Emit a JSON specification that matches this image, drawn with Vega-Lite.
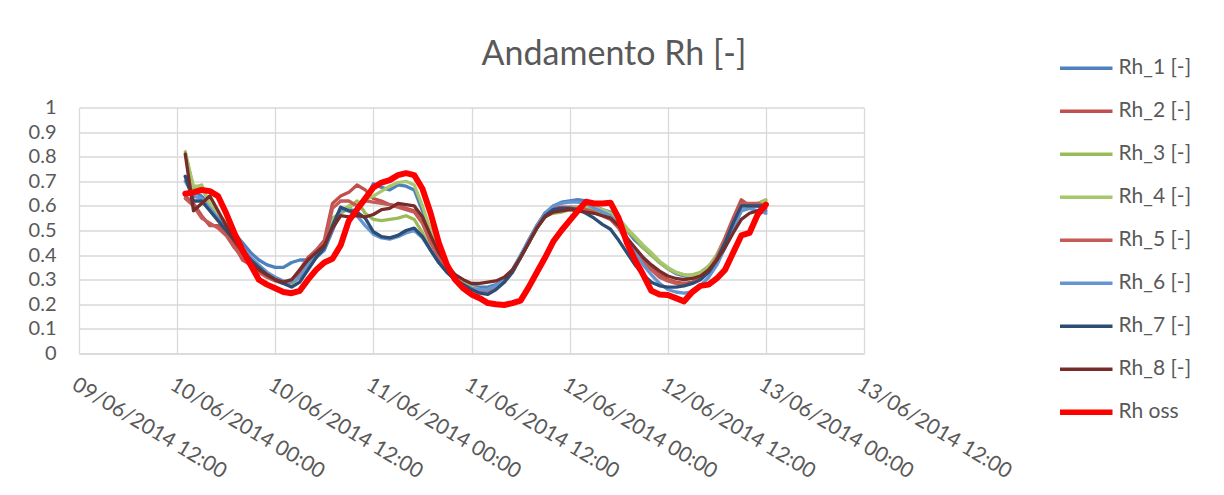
{
  "$schema": "https://vega.github.io/schema/vega-lite/v6.json",
  "width": 785,
  "height": 246,
  "autosize": {"type": "none"},
  "padding": {"left": 79, "top": 107.5, "right": 360, "bottom": 141.5},
  "background": "white",
  "config": {
    "font": "Lato",
    "view": {"stroke": null}
  },
  "title": {
    "text": "Andamento Rh [-]",
    "fontSize": 34,
    "fontWeight": "normal",
    "color": "#595959",
    "anchor": "middle",
    "frame": "group",
    "dx": 142.5,
    "dy": 55,
    "offset": 30
  },
  "data": {
    "values": [
      {"t": "2014-06-10T01:00", "r1": 0.72, "r2": 0.64, "r3": 0.82, "r4": 0.81, "r5": 0.63, "r6": 0.70, "r7": 0.72, "r8": 0.81, "obs": 0.65},
      {"t": "2014-06-10T02:00", "r1": 0.66, "r2": 0.61, "r3": 0.67, "r4": 0.68, "r5": 0.60, "r6": 0.64, "r7": 0.62, "r8": 0.58, "obs": 0.655},
      {"t": "2014-06-10T03:00", "r1": 0.64, "r2": 0.56, "r3": 0.685, "r4": 0.68, "r5": 0.55, "r6": 0.63, "r7": 0.62, "r8": 0.61, "obs": 0.665},
      {"t": "2014-06-10T04:00", "r1": 0.60, "r2": 0.52, "r3": 0.60, "r4": 0.61, "r5": 0.53, "r6": 0.59, "r7": 0.58, "r8": 0.64, "obs": 0.66},
      {"t": "2014-06-10T05:00", "r1": 0.56, "r2": 0.52, "r3": 0.56, "r4": 0.57, "r5": 0.51, "r6": 0.55, "r7": 0.54, "r8": 0.58, "obs": 0.64},
      {"t": "2014-06-10T06:00", "r1": 0.53, "r2": 0.49, "r3": 0.52, "r4": 0.53, "r5": 0.48, "r6": 0.52, "r7": 0.50, "r8": 0.52, "obs": 0.57},
      {"t": "2014-06-10T07:00", "r1": 0.49, "r2": 0.44, "r3": 0.47, "r4": 0.47, "r5": 0.43, "r6": 0.47, "r7": 0.46, "r8": 0.46, "obs": 0.49},
      {"t": "2014-06-10T08:00", "r1": 0.45, "r2": 0.38, "r3": 0.42, "r4": 0.42, "r5": 0.39, "r6": 0.43, "r7": 0.42, "r8": 0.41, "obs": 0.42},
      {"t": "2014-06-10T09:00", "r1": 0.41, "r2": 0.36, "r3": 0.38, "r4": 0.38, "r5": 0.36, "r6": 0.39, "r7": 0.38, "r8": 0.37, "obs": 0.36},
      {"t": "2014-06-10T10:00", "r1": 0.38, "r2": 0.34, "r3": 0.34, "r4": 0.345, "r5": 0.33, "r6": 0.36, "r7": 0.35, "r8": 0.34, "obs": 0.30},
      {"t": "2014-06-10T11:00", "r1": 0.36, "r2": 0.32, "r3": 0.31, "r4": 0.32, "r5": 0.31, "r6": 0.33, "r7": 0.32, "r8": 0.32, "obs": 0.28},
      {"t": "2014-06-10T12:00", "r1": 0.35, "r2": 0.30, "r3": 0.30, "r4": 0.305, "r5": 0.295, "r6": 0.31, "r7": 0.30, "r8": 0.30, "obs": 0.265},
      {"t": "2014-06-10T13:00", "r1": 0.35, "r2": 0.29, "r3": 0.285, "r4": 0.29, "r5": 0.285, "r6": 0.295, "r7": 0.285, "r8": 0.29, "obs": 0.25},
      {"t": "2014-06-10T14:00", "r1": 0.37, "r2": 0.295, "r3": 0.28, "r4": 0.285, "r5": 0.29, "r6": 0.29, "r7": 0.27, "r8": 0.30, "obs": 0.245},
      {"t": "2014-06-10T15:00", "r1": 0.38, "r2": 0.34, "r3": 0.31, "r4": 0.32, "r5": 0.33, "r6": 0.31, "r7": 0.29, "r8": 0.34, "obs": 0.255},
      {"t": "2014-06-10T16:00", "r1": 0.38, "r2": 0.39, "r3": 0.36, "r4": 0.37, "r5": 0.38, "r6": 0.36, "r7": 0.34, "r8": 0.38, "obs": 0.30},
      {"t": "2014-06-10T17:00", "r1": 0.39, "r2": 0.42, "r3": 0.40, "r4": 0.41, "r5": 0.42, "r6": 0.40, "r7": 0.39, "r8": 0.41, "obs": 0.34},
      {"t": "2014-06-10T18:00", "r1": 0.42, "r2": 0.46, "r3": 0.44, "r4": 0.45, "r5": 0.45, "r6": 0.43, "r7": 0.43, "r8": 0.44, "obs": 0.37},
      {"t": "2014-06-10T19:00", "r1": 0.50, "r2": 0.61, "r3": 0.55, "r4": 0.54, "r5": 0.59, "r6": 0.51, "r7": 0.52, "r8": 0.51, "obs": 0.385},
      {"t": "2014-06-10T20:00", "r1": 0.58, "r2": 0.64, "r3": 0.57, "r4": 0.58, "r5": 0.62, "r6": 0.585, "r7": 0.595, "r8": 0.56, "obs": 0.44},
      {"t": "2014-06-10T21:00", "r1": 0.585, "r2": 0.655, "r3": 0.59, "r4": 0.60, "r5": 0.62, "r6": 0.58, "r7": 0.58, "r8": 0.555, "obs": 0.54},
      {"t": "2014-06-10T22:00", "r1": 0.58, "r2": 0.685, "r3": 0.62, "r4": 0.61, "r5": 0.60, "r6": 0.56, "r7": 0.575, "r8": 0.56, "obs": 0.585},
      {"t": "2014-06-10T23:00", "r1": 0.62, "r2": 0.665, "r3": 0.57, "r4": 0.625, "r5": 0.62, "r6": 0.52, "r7": 0.55, "r8": 0.555, "obs": 0.63},
      {"t": "2014-06-11T00:00", "r1": 0.69, "r2": 0.63, "r3": 0.545, "r4": 0.64, "r5": 0.615, "r6": 0.485, "r7": 0.495, "r8": 0.565, "obs": 0.675},
      {"t": "2014-06-11T01:00", "r1": 0.675, "r2": 0.62, "r3": 0.54, "r4": 0.66, "r5": 0.61, "r6": 0.47, "r7": 0.475, "r8": 0.585, "obs": 0.695},
      {"t": "2014-06-11T02:00", "r1": 0.665, "r2": 0.605, "r3": 0.545, "r4": 0.68, "r5": 0.605, "r6": 0.465, "r7": 0.47, "r8": 0.59, "obs": 0.705},
      {"t": "2014-06-11T03:00", "r1": 0.685, "r2": 0.60, "r3": 0.55, "r4": 0.695, "r5": 0.595, "r6": 0.475, "r7": 0.48, "r8": 0.61, "obs": 0.725},
      {"t": "2014-06-11T04:00", "r1": 0.68, "r2": 0.59, "r3": 0.56, "r4": 0.70, "r5": 0.585, "r6": 0.49, "r7": 0.50, "r8": 0.605, "obs": 0.733},
      {"t": "2014-06-11T05:00", "r1": 0.665, "r2": 0.58, "r3": 0.545, "r4": 0.685, "r5": 0.575, "r6": 0.50, "r7": 0.51, "r8": 0.60, "obs": 0.725},
      {"t": "2014-06-11T06:00", "r1": 0.58, "r2": 0.53, "r3": 0.49, "r4": 0.60, "r5": 0.53, "r6": 0.47, "r7": 0.475, "r8": 0.555, "obs": 0.67},
      {"t": "2014-06-11T07:00", "r1": 0.50, "r2": 0.46, "r3": 0.42, "r4": 0.50, "r5": 0.45, "r6": 0.42, "r7": 0.42, "r8": 0.48, "obs": 0.57},
      {"t": "2014-06-11T08:00", "r1": 0.42, "r2": 0.40, "r3": 0.37, "r4": 0.42, "r5": 0.39, "r6": 0.37, "r7": 0.37, "r8": 0.41, "obs": 0.45},
      {"t": "2014-06-11T09:00", "r1": 0.36, "r2": 0.35, "r3": 0.33, "r4": 0.36, "r5": 0.34, "r6": 0.33, "r7": 0.33, "r8": 0.36, "obs": 0.36},
      {"t": "2014-06-11T10:00", "r1": 0.31, "r2": 0.31, "r3": 0.30, "r4": 0.32, "r5": 0.305, "r6": 0.30, "r7": 0.30, "r8": 0.32, "obs": 0.30},
      {"t": "2014-06-11T11:00", "r1": 0.29, "r2": 0.285, "r3": 0.28, "r4": 0.29, "r5": 0.28, "r6": 0.28, "r7": 0.28, "r8": 0.30, "obs": 0.265},
      {"t": "2014-06-11T12:00", "r1": 0.275, "r2": 0.27, "r3": 0.265, "r4": 0.27, "r5": 0.265, "r6": 0.265, "r7": 0.26, "r8": 0.285, "obs": 0.24},
      {"t": "2014-06-11T13:00", "r1": 0.27, "r2": 0.26, "r3": 0.255, "r4": 0.26, "r5": 0.255, "r6": 0.26, "r7": 0.245, "r8": 0.285, "obs": 0.225},
      {"t": "2014-06-11T14:00", "r1": 0.27, "r2": 0.26, "r3": 0.25, "r4": 0.26, "r5": 0.255, "r6": 0.26, "r7": 0.24, "r8": 0.29, "obs": 0.205},
      {"t": "2014-06-11T15:00", "r1": 0.28, "r2": 0.27, "r3": 0.265, "r4": 0.27, "r5": 0.27, "r6": 0.275, "r7": 0.26, "r8": 0.295, "obs": 0.20},
      {"t": "2014-06-11T16:00", "r1": 0.295, "r2": 0.29, "r3": 0.29, "r4": 0.29, "r5": 0.295, "r6": 0.30, "r7": 0.29, "r8": 0.31, "obs": 0.197},
      {"t": "2014-06-11T17:00", "r1": 0.33, "r2": 0.33, "r3": 0.33, "r4": 0.33, "r5": 0.335, "r6": 0.34, "r7": 0.33, "r8": 0.34, "obs": 0.205},
      {"t": "2014-06-11T18:00", "r1": 0.39, "r2": 0.39, "r3": 0.39, "r4": 0.39, "r5": 0.395, "r6": 0.40, "r7": 0.39, "r8": 0.39, "obs": 0.215},
      {"t": "2014-06-11T19:00", "r1": 0.45, "r2": 0.46, "r3": 0.45, "r4": 0.45, "r5": 0.46, "r6": 0.46, "r7": 0.45, "r8": 0.45, "obs": 0.27},
      {"t": "2014-06-11T20:00", "r1": 0.51, "r2": 0.52, "r3": 0.51, "r4": 0.51, "r5": 0.52, "r6": 0.52, "r7": 0.51, "r8": 0.51, "obs": 0.33},
      {"t": "2014-06-11T21:00", "r1": 0.57, "r2": 0.57, "r3": 0.56, "r4": 0.56, "r5": 0.57, "r6": 0.57, "r7": 0.56, "r8": 0.555, "obs": 0.39},
      {"t": "2014-06-11T22:00", "r1": 0.60, "r2": 0.59, "r3": 0.57, "r4": 0.575, "r5": 0.585, "r6": 0.60, "r7": 0.585, "r8": 0.575, "obs": 0.455},
      {"t": "2014-06-11T23:00", "r1": 0.615, "r2": 0.595, "r3": 0.575, "r4": 0.58, "r5": 0.59, "r6": 0.61, "r7": 0.59, "r8": 0.58, "obs": 0.50},
      {"t": "2014-06-12T00:00", "r1": 0.62, "r2": 0.595, "r3": 0.585, "r4": 0.59, "r5": 0.59, "r6": 0.615, "r7": 0.59, "r8": 0.585, "obs": 0.54},
      {"t": "2014-06-12T01:00", "r1": 0.625, "r2": 0.595, "r3": 0.59, "r4": 0.595, "r5": 0.59, "r6": 0.615, "r7": 0.585, "r8": 0.58, "obs": 0.58},
      {"t": "2014-06-12T02:00", "r1": 0.62, "r2": 0.59, "r3": 0.59, "r4": 0.60, "r5": 0.585, "r6": 0.61, "r7": 0.57, "r8": 0.575, "obs": 0.617},
      {"t": "2014-06-12T03:00", "r1": 0.60, "r2": 0.58, "r3": 0.585, "r4": 0.595, "r5": 0.575, "r6": 0.59, "r7": 0.55, "r8": 0.57, "obs": 0.61},
      {"t": "2014-06-12T04:00", "r1": 0.585, "r2": 0.565, "r3": 0.575, "r4": 0.585, "r5": 0.56, "r6": 0.575, "r7": 0.525, "r8": 0.56, "obs": 0.61},
      {"t": "2014-06-12T05:00", "r1": 0.575, "r2": 0.55, "r3": 0.56, "r4": 0.57, "r5": 0.545, "r6": 0.56, "r7": 0.505, "r8": 0.55, "obs": 0.613},
      {"t": "2014-06-12T06:00", "r1": 0.545, "r2": 0.52, "r3": 0.54, "r4": 0.55, "r5": 0.51, "r6": 0.52, "r7": 0.46, "r8": 0.52, "obs": 0.55},
      {"t": "2014-06-12T07:00", "r1": 0.50, "r2": 0.46, "r3": 0.50, "r4": 0.51, "r5": 0.455, "r6": 0.46, "r7": 0.41, "r8": 0.47, "obs": 0.45},
      {"t": "2014-06-12T08:00", "r1": 0.46, "r2": 0.42, "r3": 0.47, "r4": 0.475, "r5": 0.41, "r6": 0.41, "r7": 0.36, "r8": 0.43, "obs": 0.38},
      {"t": "2014-06-12T09:00", "r1": 0.43, "r2": 0.38, "r3": 0.43, "r4": 0.44, "r5": 0.37, "r6": 0.36, "r7": 0.32, "r8": 0.39, "obs": 0.32},
      {"t": "2014-06-12T10:00", "r1": 0.40, "r2": 0.35, "r3": 0.40, "r4": 0.41, "r5": 0.34, "r6": 0.32, "r7": 0.29, "r8": 0.36, "obs": 0.255},
      {"t": "2014-06-12T11:00", "r1": 0.37, "r2": 0.32, "r3": 0.37, "r4": 0.375, "r5": 0.31, "r6": 0.285, "r7": 0.275, "r8": 0.335, "obs": 0.24},
      {"t": "2014-06-12T12:00", "r1": 0.345, "r2": 0.30, "r3": 0.345, "r4": 0.35, "r5": 0.295, "r6": 0.26, "r7": 0.27, "r8": 0.315, "obs": 0.238},
      {"t": "2014-06-12T13:00", "r1": 0.325, "r2": 0.29, "r3": 0.33, "r4": 0.33, "r5": 0.285, "r6": 0.25, "r7": 0.27, "r8": 0.305, "obs": 0.225},
      {"t": "2014-06-12T14:00", "r1": 0.315, "r2": 0.285, "r3": 0.32, "r4": 0.32, "r5": 0.28, "r6": 0.245, "r7": 0.275, "r8": 0.30, "obs": 0.212},
      {"t": "2014-06-12T15:00", "r1": 0.31, "r2": 0.29, "r3": 0.32, "r4": 0.315, "r5": 0.285, "r6": 0.25, "r7": 0.285, "r8": 0.305, "obs": 0.25},
      {"t": "2014-06-12T16:00", "r1": 0.32, "r2": 0.31, "r3": 0.33, "r4": 0.325, "r5": 0.305, "r6": 0.275, "r7": 0.30, "r8": 0.315, "obs": 0.275},
      {"t": "2014-06-12T17:00", "r1": 0.34, "r2": 0.34, "r3": 0.355, "r4": 0.35, "r5": 0.335, "r6": 0.31, "r7": 0.33, "r8": 0.34, "obs": 0.28},
      {"t": "2014-06-12T18:00", "r1": 0.38, "r2": 0.40, "r3": 0.40, "r4": 0.395, "r5": 0.39, "r6": 0.36, "r7": 0.38, "r8": 0.38, "obs": 0.305},
      {"t": "2014-06-12T19:00", "r1": 0.44, "r2": 0.47, "r3": 0.46, "r4": 0.455, "r5": 0.46, "r6": 0.43, "r7": 0.45, "r8": 0.43, "obs": 0.34},
      {"t": "2014-06-12T20:00", "r1": 0.51, "r2": 0.55, "r3": 0.53, "r4": 0.525, "r5": 0.54, "r6": 0.51, "r7": 0.53, "r8": 0.49, "obs": 0.41},
      {"t": "2014-06-12T21:00", "r1": 0.58, "r2": 0.625, "r3": 0.60, "r4": 0.595, "r5": 0.61, "r6": 0.58, "r7": 0.60, "r8": 0.545, "obs": 0.48},
      {"t": "2014-06-12T22:00", "r1": 0.60, "r2": 0.60, "r3": 0.60, "r4": 0.60, "r5": 0.61, "r6": 0.59, "r7": 0.60, "r8": 0.57, "obs": 0.49},
      {"t": "2014-06-12T23:00", "r1": 0.60, "r2": 0.60, "r3": 0.61, "r4": 0.605, "r5": 0.61, "r6": 0.58, "r7": 0.60, "r8": 0.58, "obs": 0.565},
      {"t": "2014-06-13T00:00", "r1": 0.58, "r2": 0.59, "r3": 0.625, "r4": 0.62, "r5": 0.60, "r6": 0.57, "r7": 0.60, "r8": 0.60, "obs": 0.605}
    ]
  },
  "transform": [
    {"fold": ["r1", "r2", "r3", "r4", "r5", "r6", "r7", "r8", "obs"], "as": ["serie", "rh"]}
  ],
  "encoding": {
    "x": {
      "field": "t",
      "type": "temporal",
      "scale": {
        "domain": [
          {"year": 2014, "month": 6, "date": 9, "hours": 12},
          {"year": 2014, "month": 6, "date": 13, "hours": 12}
        ]
      },
      "axis": {
        "title": null,
        "values": [
          {"year": 2014, "month": 6, "date": 9, "hours": 12},
          {"year": 2014, "month": 6, "date": 10, "hours": 0},
          {"year": 2014, "month": 6, "date": 10, "hours": 12},
          {"year": 2014, "month": 6, "date": 11, "hours": 0},
          {"year": 2014, "month": 6, "date": 11, "hours": 12},
          {"year": 2014, "month": 6, "date": 12, "hours": 0},
          {"year": 2014, "month": 6, "date": 12, "hours": 12},
          {"year": 2014, "month": 6, "date": 13, "hours": 0},
          {"year": 2014, "month": 6, "date": 13, "hours": 12}
        ],
        "format": "%d/%m/%Y %H:%M",
        "labelAngle": 31,
        "labelAlign": "left",
        "labelBaseline": "top",
        "labelPadding": 20,
        "labelFontSize": 21,
        "labelColor": "#595959",
        "labelOverlap": false,
        "labelFlush": false,
        "labelBound": false,
        "ticks": false,
        "grid": true,
        "gridColor": "#D9D9D9",
        "gridWidth": 1.3,
        "domainColor": "#D9D9D9",
        "domainWidth": 1.3
      }
    },
    "y": {
      "field": "rh",
      "type": "quantitative",
      "scale": {"domain": [0, 1], "nice": false},
      "axis": {
        "title": null,
        "values": [0, 0.1, 0.2, 0.3, 0.4, 0.5, 0.6, 0.7, 0.8, 0.9, 1],
        "format": ".1~f",
        "labelFontSize": 20,
        "labelColor": "#595959",
        "labelPadding": 23,
        "ticks": false,
        "domain": false,
        "grid": true,
        "gridColor": "#D9D9D9",
        "gridWidth": 1.3
      }
    },
    "color": {
      "field": "serie",
      "type": "nominal",
      "scale": {
        "domain": ["r1", "r2", "r3", "r4", "r5", "r6", "r7", "r8", "obs"],
        "range": ["#4F81BD", "#C0504D", "#9BBB59", "#A8C66C", "#C55A57", "#6495D1", "#2C4D75", "#772C2A", "#FF0000"]
      },
      "legend": {
        "title": null,
        "orient": "none",
        "legendX": 981,
        "legendY": -60.5,
        "padding": 0,
        "symbolType": "stroke",
        "symbolSize": 2809,
        "symbolStrokeWidth": 3.3,
        "symbolOffset": 15.5,
        "clipHeight": 42.5,
        "rowPadding": 0,
        "labelFontSize": 21,
        "labelColor": "#595959",
        "labelOffset": 22,
        "labelLimit": 200,
        "labelExpr": "datum.value === 'obs' ? 'Rh oss' : 'Rh_' + substring(datum.value, 1) + ' [-]'",
        "encode": {
          "symbols": {"update": {"strokeWidth": {"signal": "datum.value === 'obs' ? 5.5 : 3.3"}}}
        }
      }
    }
  },
  "layer": [
    {
      "transform": [{"filter": "datum.serie !== 'obs'"}],
      "mark": {"type": "line", "strokeWidth": 3.3, "strokeCap": "round", "strokeJoin": "round"}
    },
    {
      "transform": [{"filter": "datum.serie === 'obs'"}],
      "mark": {"type": "line", "strokeWidth": 6, "strokeCap": "round", "strokeJoin": "round"}
    }
  ]
}
